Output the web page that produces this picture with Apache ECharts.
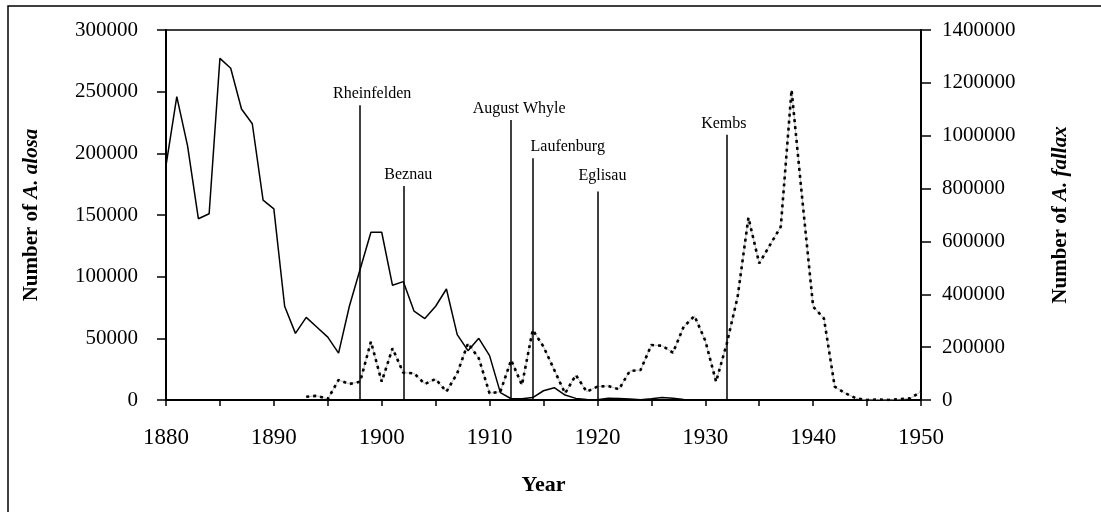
<!DOCTYPE html>
<html>
<head>
<meta charset="utf-8">
<script src="https://cdn.jsdelivr.net/npm/echarts@6/dist/echarts.min.js"></script>
<style>
  html, body { margin: 0; padding: 0; background: #fff; }
  #chart { width: 1101px; height: 512px; }
</style>
</head>
<body>
<div id="chart"></div>
<script>
var dom = document.getElementById("chart");
var myChart = echarts.init(dom);
var option;

var serif = 'Liberation Serif';

// A. alosa, 1880 - 1929 (left axis)
var alosaStart = 1880;
var alosaValues = [
    190000, 246000, 206000, 147000, 151000, 277000, 269000, 236000, 224000, 162000,
    155000, 76000, 54000, 67000, 59000, 51000, 38000, 76000, 106000, 136000,
    136000, 93000, 96000, 72000, 66000, 76000, 90000, 53000, 40000, 50000,
    36000, 6000, 1000, 1000, 2000, 7500, 10000, 4000, 1300, 500,
    300, 1500, 1200, 800, 300, 1000, 2000, 1500, 500, 0
];

// A. fallax, 1893 - 1950 (right axis)
var fallaxStart = 1893;
var fallaxValues = [
    12500, 16000, 3800, 75700, 60500, 69300, 220700,
    69300, 195600, 103300, 101000, 60500, 79500, 31500, 101000, 214500, 157800,
    25200, 31500, 151000, 56700, 265000, 201800, 113500, 25000, 94600, 31500,
    50500, 53000, 40500, 109700, 113500, 208100, 205500, 179000, 277500, 317800,
    224600, 69300, 214500, 391000, 690000, 517000, 586500, 655800, 1173000, 756800,
    353000, 309000, 50300, 25200, 6300, 0, 2000, 0, 3000, 6300,
    31500
];

// dams (vertical markers)
var eventNames = ['Rheinfelden', 'Beznau', 'August Whyle', 'Laufenburg', 'Eglisau', 'Kembs'];
var eventYears = [1898, 1902, 1912, 1914, 1920, 1932];
var eventTops = [239000, 173500, 227000, 196000, 169000, 215000];
var eventLabelShift = [[12, 0], [5, 0], [8, 0], [35, 0], [5, -5], [-3, 0]];

function toPairs(start, values) {
    return values.map(function (v, i) { return [start + i, v]; });
}

var alosaData = toPairs(alosaStart, alosaValues);
var fallaxData = toPairs(fallaxStart, fallaxValues);

var markLines = eventYears.map(function (yr, i) {
    return [{coord: [yr, eventTops[i]]}, {coord: [yr, 0]}];
});

var eventLabels = eventYears.map(function (yr, i) {
    return {
        name: eventNames[i],
        value: [yr, eventTops[i]],
        label: {offset: eventLabelShift[i]}
    };
});

function plain(v) { return String(v); }

option = {
    animation: false,
    backgroundColor: '#fff',
    graphic: [{
        type: 'rect',
        shape: {x: 8, y: 6, width: 1200, height: 600},
        style: {fill: 'none', stroke: '#000', lineWidth: 1.5},
        silent: true
    }],
    grid: {
        left: 166,
        right: 180,
        top: 30,
        bottom: 112,
        show: true,
        borderColor: '#000',
        borderWidth: 1.5,
        outerBoundsMode: 'none'
    },
    xAxis: {
        type: 'value',
        min: 1880,
        max: 1950,
        interval: 5,
        name: 'Year',
        nameLocation: 'middle',
        nameGap: 74,
        nameTextStyle: {
            fontFamily: serif,
            fontWeight: 'bold',
            fontSize: 22,
            color: '#000'
        },
        axisLine: {lineStyle: {color: '#000', width: 2}},
        axisTick: {show: true, inside: false, length: 6, lineStyle: {color: '#000', width: 1.5}},
        axisLabel: {
            margin: 26,
            fontFamily: serif,
            fontSize: 23,
            color: '#000',
            formatter: function (v) { return v % 10 === 0 ? String(v) : ''; }
        },
        splitLine: {show: false}
    },
    yAxis: [{
        type: 'value',
        min: 0,
        max: 300000,
        interval: 50000,
        position: 'left',
        name: '{n|Number of }{i|A. alosa}',
        nameLocation: 'middle',
        nameGap: 124,
        nameTextStyle: {
            rich: {
                n: {fontFamily: serif, fontWeight: 'bold', fontSize: 21, color: '#000'},
                i: {fontFamily: serif, fontWeight: 'bold', fontStyle: 'italic', fontSize: 21, color: '#000'}
            }
        },
        axisLine: {show: true, lineStyle: {color: '#000', width: 2}},
        axisTick: {show: true, length: 9, lineStyle: {color: '#000', width: 1.5}},
        axisLabel: {margin: 28, fontFamily: serif, fontSize: 21, color: '#000', formatter: plain},
        splitLine: {show: false}
    }, {
        type: 'value',
        min: 0,
        max: 1400000,
        interval: 200000,
        position: 'right',
        name: '{n|Number of }{i|A. fallax}',
        nameLocation: 'middle',
        nameGap: 129,
        nameTextStyle: {
            rich: {
                n: {fontFamily: serif, fontWeight: 'bold', fontSize: 21, color: '#000'},
                i: {fontFamily: serif, fontWeight: 'bold', fontStyle: 'italic', fontSize: 21, color: '#000'}
            }
        },
        axisLine: {show: true, lineStyle: {color: '#000', width: 2}},
        axisTick: {show: true, length: 10, lineStyle: {color: '#000', width: 1.5}},
        axisLabel: {margin: 21, fontFamily: serif, fontSize: 21, color: '#000', formatter: plain},
        splitLine: {show: false}
    }],
    series: [{
        name: 'A. fallax (thin)',
        type: 'line',
        yAxisIndex: 1,
        data: fallaxData,
        showSymbol: false,
        silent: true,
        lineStyle: {color: '#aaa', width: 0.8}
    }, {
        name: 'A. fallax',
        type: 'line',
        yAxisIndex: 1,
        data: fallaxData,
        showSymbol: false,
        lineStyle: {color: '#000', width: 2.6, type: [3, 4]}
    }, {
        name: 'A. alosa',
        type: 'line',
        yAxisIndex: 0,
        data: alosaData,
        showSymbol: false,
        lineStyle: {color: '#000', width: 1.5},
        markLine: {
            silent: true,
            symbol: ['none', 'none'],
            label: {show: false},
            lineStyle: {color: '#000', width: 1.5, type: 'solid'},
            data: markLines
        }
    }, {
        name: 'dams',
        type: 'scatter',
        yAxisIndex: 0,
        symbolSize: 0,
        silent: true,
        data: eventLabels,
        itemStyle: {opacity: 1},
        label: {
            show: true,
            position: 'top',
            distance: 3,
            formatter: '{b}',
            fontFamily: serif,
            fontSize: 16,
            color: '#000',
            opacity: 1
        }
    }]
};

myChart.setOption(option);
</script>
</body>
</html>
